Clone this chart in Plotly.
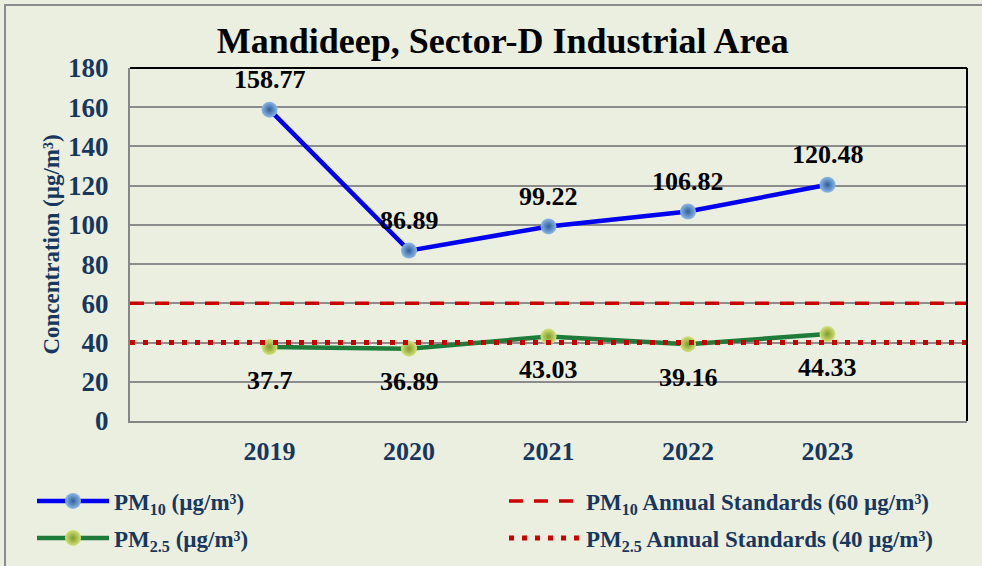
import plotly.graph_objects as go

years = ["2019", "2020", "2021", "2022", "2023"]
pm10 = [158.77, 86.89, 99.22, 106.82, 120.48]
pm25 = [37.7, 36.89, 43.03, 39.16, 44.33]
pm10_std = 60
pm25_std = 40
y_ticks = [0, 20, 40, 60, 80, 100, 120, 140, 160, 180]
x_range = [-1, 5]

xs = list(range(len(years)))
SERIF = "Liberation Serif, Times New Roman, serif"
NAVY = "#17375E"
BG = "#EBEFDF"

fig = go.Figure()

fig.add_trace(go.Scatter(
    x=xs, y=pm10, mode="lines+markers", name="PM<sub>10</sub> (µg/m³)",
    line=dict(color="#0000F0", width=4.5),
    marker=dict(size=16, color="#8DB8E8", gradient=dict(type="radial", color="#2E5F9A"),
                line=dict(width=0)),
    legend="legend", showlegend=True,
))
fig.add_trace(go.Scatter(
    x=xs, y=pm25, mode="lines+markers", name="PM<sub>2.5</sub> (µg/m³)",
    line=dict(color="#1E7B3A", width=4.5),
    marker=dict(size=16, color="#D4E27A", gradient=dict(type="radial", color="#7E9A2A"),
                line=dict(width=0)),
    legend="legend3", showlegend=True,
))
fig.add_trace(go.Scatter(
    x=x_range, y=[pm10_std, pm10_std], mode="lines",
    name="PM<sub>10</sub> Annual Standards (60 µg/m³)",
    line=dict(color="#CC0000", width=3.5, dash="14px,11px"),
    legend="legend2", showlegend=True,
))
fig.add_trace(go.Scatter(
    x=x_range, y=[pm25_std, pm25_std], mode="lines",
    name="PM<sub>2.5</sub> Annual Standards (40 µg/m³)",
    line=dict(color="#CC0000", width=5, dash="5px,8px"),
    legend="legend4", showlegend=True,
))

annotations = []
for x, v in zip(xs, pm10):
    annotations.append(dict(x=x, y=v, text=f"{v:g}", showarrow=False, yshift=30,
                            font=dict(family=SERIF, size=26, color="black", weight="bold")))
for x, v in zip(xs, pm25):
    annotations.append(dict(x=x, y=v, text=f"{v:g}", showarrow=False, yshift=-33,
                            font=dict(family=SERIF, size=26, color="black", weight="bold")))

legend_common = dict(orientation="h", xref="container", yref="container",
                     xanchor="left", yanchor="middle", itemwidth=72,
                     bgcolor="rgba(0,0,0,0)",
                     font=dict(family=SERIF, size=23, color=NAVY, weight="bold"))
LX1, LX2 = 32 / 982, 504 / 982
LY1, LY2 = 1 - 501 / 566, 1 - 538 / 566

fig.update_layout(
    width=982, height=566,
    showlegend=True,
    paper_bgcolor=BG, plot_bgcolor=BG,
    margin=dict(l=130, r=15, t=68, b=145, autoexpand=False),
    title=dict(text="Mandideep, Sector-D Industrial Area", x=0.512, xref="container",
               y=1 - 40 / 566, yref="container", xanchor="center", yanchor="middle",
               font=dict(family=SERIF, size=36, color="black", weight="bold")),
    xaxis=dict(range=x_range, tickvals=xs, ticktext=years, showgrid=False, zeroline=False,
               showline=True, linecolor="#868686", linewidth=2, ticks="",
               ticklabelstandoff=6,
               tickfont=dict(family=SERIF, size=26, color=NAVY, weight="bold")),
    yaxis=dict(range=[0, 180], tickvals=y_ticks, showgrid=True, gridcolor="#8C8C8C",
               gridwidth=1.5, zeroline=False, showline=True, linecolor="#868686",
               linewidth=2, ticks="", ticklabelstandoff=14,
               tickfont=dict(family=SERIF, size=27, color=NAVY, weight="bold"),
               title=dict(text="Concentration (µg/m³)", standoff=2,
                          font=dict(family=SERIF, size=23, color=NAVY, weight="bold"))),
    legend=dict(legend_common, x=LX1, y=LY1),
    legend2=dict(legend_common, x=LX2, y=LY1),
    legend3=dict(legend_common, x=LX1, y=LY2),
    legend4=dict(legend_common, x=LX2, y=LY2),
    annotations=annotations,
    shapes=[
        dict(type="line", xref="paper", yref="paper", x0=0, x1=1, y0=1, y1=1,
             line=dict(color="black", width=2)),
        dict(type="line", xref="paper", yref="paper", x0=1, x1=1, y0=0, y1=1,
             line=dict(color="black", width=2)),
        dict(type="rect", xref="paper", yref="paper", x0=-125 / 837, x1=1.2,
             y0=-0.6, y1=1 + 63 / 353, line=dict(color="#8C8C8C", width=2),
             fillcolor="rgba(0,0,0,0)", layer="below"),
    ],
)

fig.write_html("out.html", config={"displayModeBar": False},
               post_script="document.body.style.margin='0';document.body.style.overflow='hidden';")
